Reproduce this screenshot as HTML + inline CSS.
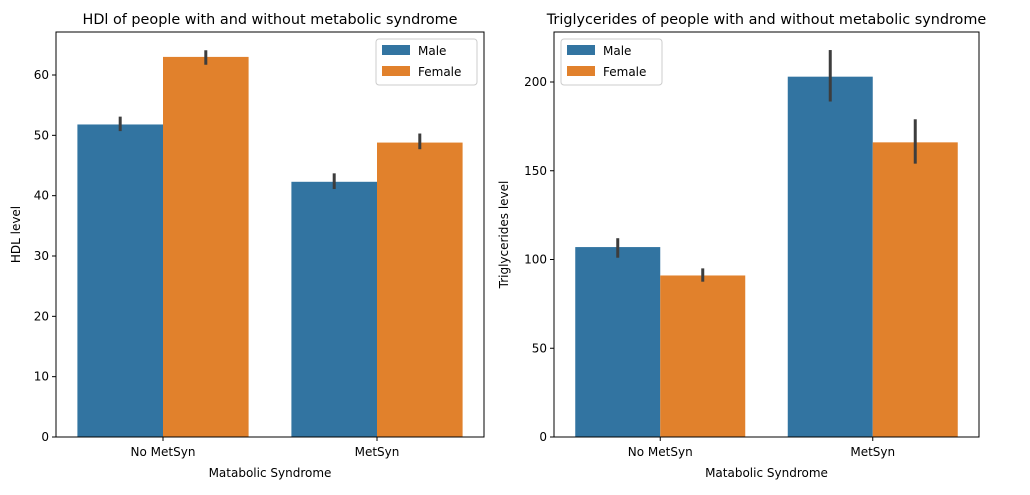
<!DOCTYPE html>
<html><head><meta charset="utf-8"><style>
body{margin:0;background:#fff;font-family:"Liberation Sans","DejaVu Sans",sans-serif}
svg text{font-family:"DejaVu Sans","Liberation Sans",sans-serif}
</style></head><body>
<svg id="c" width="1030" height="490" xmlns="http://www.w3.org/2000/svg"></svg>
<script>
const categories=["No MetSyn","MetSyn"];
const hdlMale=[51.8,42.3];
const hdlFemale=[63.0,48.8];
const hdlMaleErr=[[50.7,53.1],[41.1,43.7]];
const hdlFemaleErr=[[61.7,64.1],[47.7,50.3]];
const hdlTicks=[0,10,20,30,40,50,60];
const trgMale=[107,203];
const trgFemale=[91,166];
const trgMaleErr=[[101,112],[189,218]];
const trgFemaleErr=[[87.5,95],[154,179]];
const trgTicks=[0,50,100,150,200];
const colors=["#3274a1","#e1812c"];
const svg=document.getElementById('c');
const NS="http://www.w3.org/2000/svg";
function mk(t,a,p){const e=document.createElementNS(NS,t);for(const k in a)e.setAttribute(k,a[k]);(p||svg).appendChild(e);return e;}
function panel(o){
  const g=mk('g',{});
  
  
  const L=o.x0,R=o.x1,T=32,B=437;
  const y=v=>B-(v/o.ymax)*(B-T);
  const cw=(R-L)/categories.length;
  const series=[[o.male,o.maleErr],[o.female,o.femaleErr]];
  series.forEach((s,si)=>{
    s[0].forEach((v,ci)=>{
      const bx=L+cw*ci+cw*0.1+si*cw*0.4;
      const r=mk('rect',{x:bx,y:y(v),width:cw*0.4,height:B-y(v),fill:colors[si]},g);
      
      
      const cx=bx+cw*0.2;
      const l=mk('line',{x1:cx,x2:cx,y1:y(s[1][ci][0]),y2:y(s[1][ci][1]),stroke:'#3d3d3d','stroke-width':3},g);
      
      
    });
  });
  mk('rect',{x:L,y:T,width:R-L,height:B-T,fill:'none',stroke:'#000','stroke-width':1},g);
  o.ticks.forEach(t=>{
    mk('line',{x1:L-4,x2:L,y1:y(t),y2:y(t),stroke:'#000'},g);
    const tx=mk('text',{x:L-7,y:y(t)+4,'text-anchor':'end','font-size':12},g);tx.textContent=t;
    
    
  });
  categories.forEach((c,ci)=>{
    const cx=L+cw*(ci+0.5);
    mk('line',{x1:cx,x2:cx,y1:B,y2:B+4,stroke:'#000'},g);
    const tx=mk('text',{x:cx,y:B+19,'text-anchor':'middle','font-size':12},g);tx.textContent=c;
    
    
  });
  const xt=mk('text',{x:(L+R)/2,y:477,'text-anchor':'middle','font-size':12},g);xt.textContent='Matabolic Syndrome';
  
  
  const yt=mk('text',{x:0,y:0,'text-anchor':'middle','font-size':12,transform:`translate(${o.ylx},${(T+B)/2}) rotate(-90)`},g);yt.textContent=o.ylabel;
  
  
  const tt=mk('text',{x:(L+R)/2,y:24,'text-anchor':'middle','font-size':14.4},g);tt.textContent=o.title;
  
  
  const lg=mk('g',{},g);
  
  
  mk('rect',{x:o.lx,y:39,width:o.lw,height:46,rx:3,fill:'#fff',stroke:'#ccc'},lg);
  ['Male','Female'].forEach((n,i)=>{
    mk('rect',{x:o.lx+6,y:45+i*21,width:28,height:10,fill:colors[i]},lg);
    const t=mk('text',{x:o.lx+42,y:55+i*21,'font-size':12},lg);t.textContent=n;
    
    
  });
}
panel({name:'hdl-panel',x0:56,x1:484,ymax:405/((437-75)/60),ticks:hdlTicks,male:hdlMale,female:hdlFemale,maleErr:hdlMaleErr,femaleErr:hdlFemaleErr,ylabel:'HDL level',ylx:20,title:'HDl of people with and without metabolic syndrome',lx:376,lw:101});
panel({name:'triglycerides-panel',x0:554,x1:979,ymax:405/((437-82)/200),ticks:trgTicks,male:trgMale,female:trgFemale,maleErr:trgMaleErr,femaleErr:trgFemaleErr,ylabel:'Triglycerides level',ylx:508,title:'Triglycerides of people with and without metabolic syndrome',lx:561,lw:101});
</script>
</body></html>
